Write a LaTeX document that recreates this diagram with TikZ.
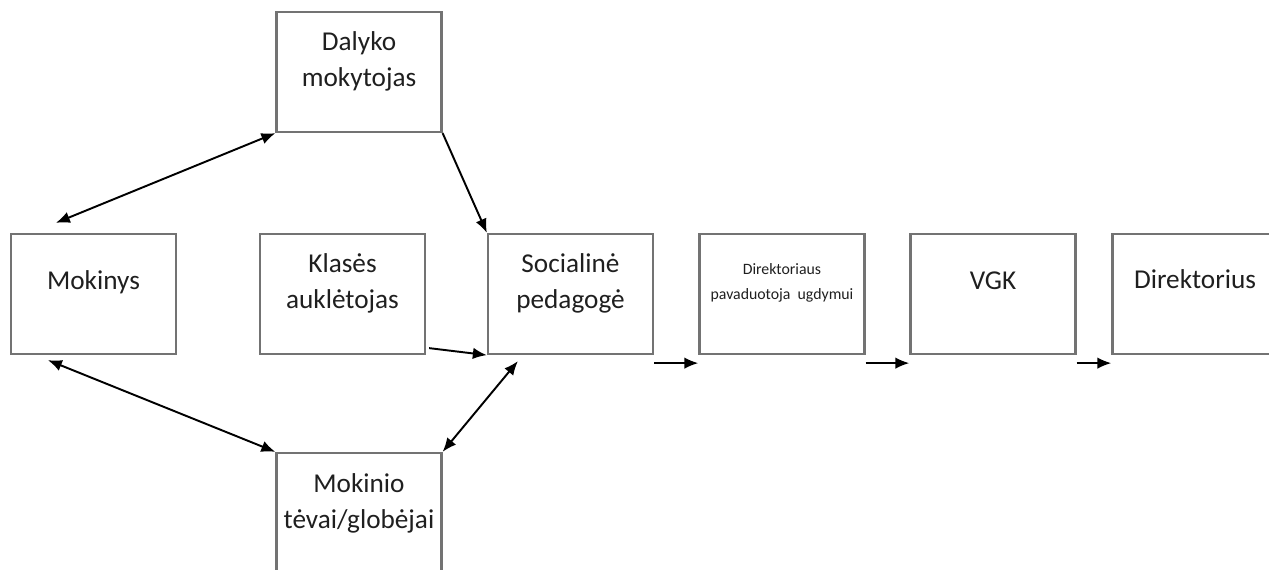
\documentclass[tikz,border=0pt]{standalone}
\usepackage{fontspec}
\setmainfont{Carlito}
\usetikzlibrary{arrows.meta,positioning}

\definecolor{boxgray}{RGB}{115,115,115}

\tikzset{
  box/.style={draw=boxgray, line width=1.3pt, minimum width=3.3cm, minimum height=2.4cm, inner sep=0pt},
  txt/.style={anchor=north, align=center, inner sep=0pt, text=black!88,
    font=\fontsize{15.5}{20.5}\selectfont, execute at begin node=\strut},
  smalltxt/.style={txt, font=\fontsize{9}{14}\selectfont},
  arr/.style={line width=1.1pt, -{Latex[length=2.8mm,width=2.3mm]}},
  dbl/.style={line width=1.1pt, {Latex[length=2.8mm,width=2.3mm]}-{Latex[length=2.8mm,width=2.3mm]}},
}

\begin{document}
\begin{tikzpicture}[x=0.02cm,y=-0.02cm]
  \useasboundingbox (0,0) rectangle (1269,570);

  % boxes
  \node[box] (dal) at (359,72) {};
  \node[box] (mok) at (93.5,294) {};
  \node[box] (kla) at (342.5,294) {};
  \node[box] (soc) at (570.5,294) {};
  \node[box] (pav) at (782,294) {};
  \node[box] (vgk) at (993,294) {};
  \node[box] (dir) at (1195,294) {};
  \node[box] (tev) at (359,513) {};

  % texts
  \node[txt] (dalt) at ([shift={(0,20.7)}]dal.north) {Dalyko\\mokytojas};
  \node[txt] (mokt) at ([shift={(0,30.7)}]mok.north) {Mokinys};
  \node[txt] (klat) at ([shift={(0,20)}]kla.north) {Klasės\\auklėtojas};
  \node[txt] (soct) at ([shift={(0,20)}]soc.north) {Socialinė\\pedagogė};
  \node[smalltxt] (pavt) at ([shift={(0,30.7)}]pav.north) {Direktoriaus\\pavaduotoja\ \ ugdymui};
  \node[txt] (vgkt) at ([shift={(0,30.7)}]vgk.north) {VGK};
  \node[txt] (dirt) at ([shift={(0,29.7)}]dir.north) {Direktorius};
  \node[txt] (tevt) at ([shift={(0,21.7)}]tev.north) {Mokinio\\tėvai/globėjai};

  % connectors
  \draw[dbl] ([shift={(46,-10)}]mok.north west) -- (dal.south west);
  \draw[arr] (dal.south east) -- (soc.north west);
  \draw[arr] ([shift={(3,-7)}]kla.south east) -- (soc.south west);
  \draw[dbl] ([shift={(38,5)}]mok.south west) -- (tev.north west);
  \draw[dbl] ([shift={(31,6)}]soc.south west) -- (tev.north east);

  \draw[arr] ([shift={(0,8)}]soc.south east) -- ([shift={(0,8)}]pav.south west);
  \draw[arr] ([shift={(0,8)}]pav.south east) -- ([shift={(0,8)}]vgk.south west);
  \draw[arr] ([shift={(0,8)}]vgk.south east) -- ([shift={(0,8)}]dir.south west);
\end{tikzpicture}
\end{document}
